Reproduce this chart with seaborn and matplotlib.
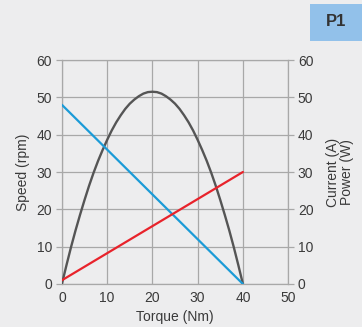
import matplotlib
matplotlib.use("Agg")
import matplotlib.pyplot as plt
import seaborn as sns
import pandas as pd

torque_speed = [0, 40]
speed = [48, 0]
torque_current = [0, 40]
current = [1, 30]
torque_power = [0, 0.5, 1, 1.5, 2, 3, 4, 5, 6, 7, 8, 9, 10, 11, 12, 13, 14, 15, 16, 17, 18, 19, 20,
                21, 22, 23, 24, 25, 26, 27, 28, 29, 30, 31, 32, 33, 34, 35, 36, 37, 38, 38.5, 39, 39.5, 40]
power = [0, 2.5, 5.0, 7.4, 9.8, 14.3, 18.5, 22.5, 26.3, 29.8, 33.0, 35.9, 38.6, 41.1, 43.3, 45.2, 46.9, 48.3, 49.4, 50.3, 51.0, 51.4, 51.5,
         51.4, 51.0, 50.3, 49.4, 48.3, 46.9, 45.2, 43.3, 41.1, 38.6, 35.9, 33.0, 29.8, 26.3, 22.5, 18.5, 14.3, 9.8, 7.4, 5.0, 2.5, 0]
x_ticks = [0, 10, 20, 30, 40, 50]
y_ticks = [0, 10, 20, 30, 40, 50, 60]

sns.set_theme(style="white")
plt.rcParams['font.family'] = ['Liberation Sans', 'DejaVu Sans']
bg = "#ededee"
txt = "#3a3a3a"
grid_c = "#a8a8a8"
fs = 10

fig = plt.figure(figsize=(3.62, 3.27), dpi=100, facecolor=bg)
ax = fig.add_axes([0.171, 0.1315, 0.625, 0.685], facecolor=bg)

df_p = pd.DataFrame({"t": torque_power, "v": power})
df_s = pd.DataFrame({"t": torque_speed, "v": speed})
df_c = pd.DataFrame({"t": torque_current, "v": current})
sns.lineplot(data=df_p, x="t", y="v", ax=ax, color="#555555", lw=1.7, zorder=3)
sns.lineplot(data=df_s, x="t", y="v", ax=ax, color="#1b9bd7", lw=1.6, zorder=4)
sns.lineplot(data=df_c, x="t", y="v", ax=ax, color="#e8232b", lw=1.6, zorder=5)

ax.set_xlim(0, 50)
ax.set_ylim(0, 60)
ax.set_xticks(x_ticks)
ax.set_yticks(y_ticks)
ax.grid(True, color=grid_c, lw=0.9)
ax.set_axisbelow(True)
for s in ax.spines.values():
    s.set_color(grid_c)
    s.set_linewidth(0.9)
ax.tick_params(axis="both", colors=txt, labelsize=fs, length=0, pad=3)
ax.tick_params(axis="x", pad=5)
ax.tick_params(axis="y", length=4, color=grid_c, width=0.9, pad=3)
ax.set_xlabel("Torque (Nm)", color=txt, fontsize=fs, labelpad=4)
ax.set_ylabel("Speed (rpm)", color=txt, fontsize=fs, labelpad=5)

ax2 = ax.twinx()
ax2.set_ylim(0, 60)
ax2.set_yticks(y_ticks)
ax2.tick_params(axis="y", colors=txt, labelsize=fs, length=4, color=grid_c, width=0.9, pad=3)
for s in ax2.spines.values():
    s.set_visible(False)
ax2.set_ylabel("Current (A)\nPower (W)", color=txt, fontsize=fs, labelpad=9, linespacing=1.0)

fig.patches.append(plt.Rectangle((310 / 362, 1 - 41 / 327), 52 / 362, 37 / 327,
                                 transform=fig.transFigure, facecolor="#92c1ea", edgecolor="none"))
fig.text(336 / 362, 1 - 22 / 327, "P1", ha="center", va="center", fontsize=12,
         fontweight="bold", color="#333333")

fig.savefig("out.png", dpi=100, facecolor=bg)
